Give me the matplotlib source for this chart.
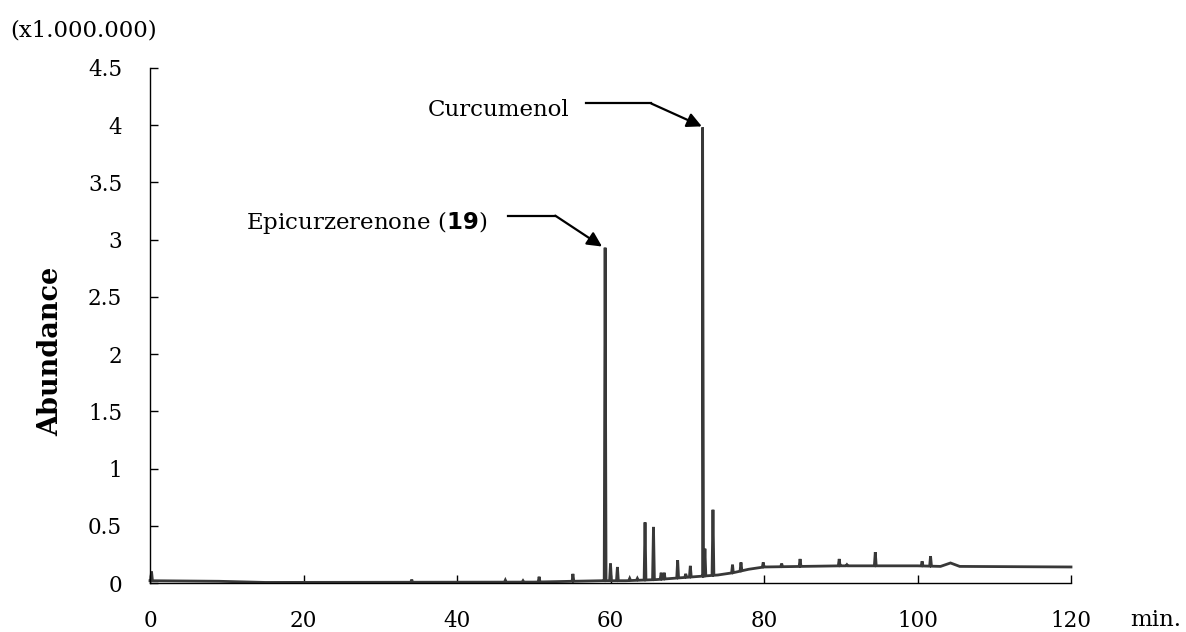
#!/usr/bin/env python

import numpy as np
import matplotlib
matplotlib.use('Agg')
import matplotlib.pyplot as plt

plt.rcParams['font.family'] = ['DejaVu Serif']
plt.rcParams['mathtext.fontset'] = 'custom'
plt.rcParams['mathtext.rm'] = 'DejaVu Serif'
plt.rcParams['mathtext.bf'] = 'DejaVu Sans:bold'

# baseline drift of the chromatogram (min, x1.000.000)
base_rt = [0.0, 9.0, 15.0, 50.0, 55.0, 59.0, 62.0, 66.0, 70.0, 72.0, 74.0,
           76.0, 78.0, 80.0, 90.0, 100.0, 103.0, 104.3, 105.5, 120.0]
base_ab = [0.02, 0.015, 0.005, 0.008, 0.015, 0.02, 0.02, 0.03, 0.05, 0.06, 0.07,
           0.09, 0.12, 0.14, 0.15, 0.15, 0.145, 0.175, 0.145, 0.14]

# peak apexes (retention time, abundance)
peak_rt = [0.2, 34.1, 46.3, 48.6, 50.7, 55.1, 59.3, 60.0, 60.9, 62.5, 63.5,
           64.5, 65.6, 66.6, 67.0, 68.75, 69.8, 70.4, 72.0, 72.3, 73.35,
           75.9, 77.0, 79.9, 82.3, 84.7, 89.8, 90.8, 94.5, 100.6, 101.7]
peak_ab = [0.10, 0.03, 0.025, 0.02, 0.055, 0.08, 2.93, 0.17, 0.14, 0.04, 0.04,
           0.53, 0.49, 0.09, 0.09, 0.20, 0.08, 0.15, 3.98, 0.30, 0.64,
           0.16, 0.18, 0.18, 0.17, 0.21, 0.21, 0.16, 0.27, 0.19, 0.235]

xticks = [0, 20, 40, 60, 80, 100, 120]
yticks = [0, 0.5, 1, 1.5, 2, 2.5, 3, 3.5, 4, 4.5]
ytick_labels = ['0', '0.5', '1', '1.5', '2', '2.5', '3', '3.5', '4', '4.5']

# build the trace: baseline knots plus a narrow spike at each apex
half = 0.12
pts = list(zip(base_rt, base_ab))
for rt, ab in zip(peak_rt, peak_ab):
    foot = np.interp([rt - half, rt + half], base_rt, base_ab)
    pts += [(rt - half, foot[0]), (rt, ab), (rt + half, foot[1])]
pts.sort(key=lambda p: p[0])
tr_x = np.array([p[0] for p in pts])
tr_y = np.array([p[1] for p in pts])

fig = plt.figure(figsize=(11.86, 6.32), dpi=100)
ax = fig.add_axes([150/1186, 49/632, 921/1186, 515/632])

ax.plot(tr_x, tr_y, color='#383838', lw=2.0, solid_joinstyle='miter', clip_on=False)

ax.set_xlim(0, 120)
ax.set_ylim(0, 4.5)
ax.spines['top'].set_visible(False)
ax.spines['right'].set_visible(False)
ax.spines['left'].set_linewidth(1.0)
ax.spines['bottom'].set_linewidth(1.0)
ax.set_xticks(xticks)
ax.set_yticks(yticks)
ax.set_yticklabels(ytick_labels)
ax.tick_params(axis='x', direction='in', length=6, width=1.0, pad=19.5, labelsize=15.5)
ax.tick_params(axis='y', direction='in', length=6, width=1.0, pad=20, labelsize=15.5)

fig.text(51/1186, 1 - 351/632, 'Abundance', rotation=90, ha='center', va='center',
         fontsize=19.5, fontweight='bold')
fig.text(10/1186, 1 - 31/632, '(x1.000.000)', ha='left', va='center', fontsize=16.5)
fig.text(1130/1186, 1 - 620/632, 'min.', ha='left', va='center', fontsize=16.5)

# labelled peaks with bent leader arrows
i_epi = peak_rt.index(59.3)
i_cur = peak_rt.index(72.0)

ax.text(54.7, 4.13, 'Curcumenol', ha='right', va='center', fontsize=16.5)
ax.plot([56.8, 65.3], [4.19, 4.19], color='k', lw=1.6, clip_on=False)
ax.annotate('', xy=(peak_rt[i_cur] - 0.1, peak_ab[i_cur] + 0.01), xytext=(65.3, 4.19),
            arrowprops=dict(arrowstyle='-|>', color='k', lw=1.6, mutation_scale=22,
                            shrinkA=0, shrinkB=0))

ax.text(43.9, 3.15, r'Epicurzerenone ($\mathbf{19}$)', ha='right', va='center', fontsize=16.5)
ax.plot([46.6, 52.8], [3.21, 3.21], color='k', lw=1.6, clip_on=False)
ax.annotate('', xy=(peak_rt[i_epi] - 0.4, peak_ab[i_epi] + 0.01), xytext=(52.8, 3.21),
            arrowprops=dict(arrowstyle='-|>', color='k', lw=1.6, mutation_scale=22,
                            shrinkA=0, shrinkB=0))

plt.savefig('out.png', dpi=100)
